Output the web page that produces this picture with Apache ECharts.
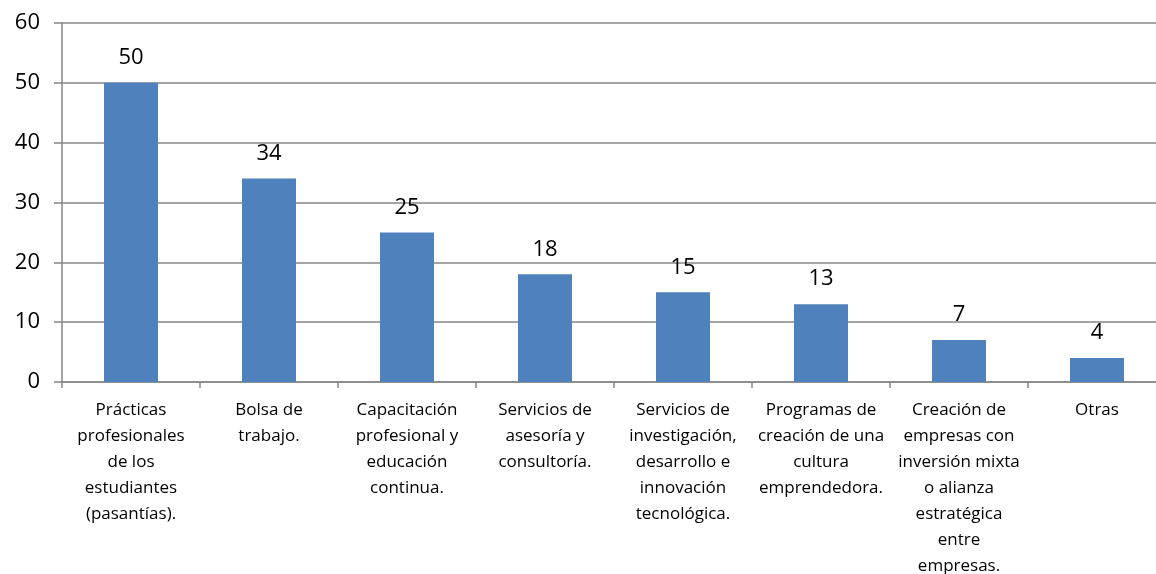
<!DOCTYPE html>
<html>
<head>
    <meta charset="utf-8">
    <title>ECharts</title>
    <script src="https://cdn.jsdelivr.net/npm/echarts@6/dist/echarts.min.js"></script>
</head>
<body>
<style>
    html, body, #main {
        width: 100%;
        height: 100%;
        padding: 0;
        margin: 0;
        background: #fff;
    }
</style>
<div id="main"></div>
<script type="text/javascript">
    var categories = [
        'Prácticas\nprofesionales\nde los\nestudiantes\n(pasantías).',
        'Bolsa de\ntrabajo.',
        'Capacitación\nprofesional y\neducación\ncontinua.',
        'Servicios de\nasesoría y\nconsultoría.',
        'Servicios de\ninvestigación,\ndesarrollo e\ninnovación\ntecnológica.',
        'Programas de\ncreación de una\ncultura\nemprendedora.',
        'Creación de\nempresas con\ninversión mixta\no alianza\nestratégica\nentre\nempresas.',
        'Otras'
    ];
    var values = [50, 34, 25, 18, 15, 13, 7, 4];

    var myChart = echarts.init(document.getElementById('main'));
    var axisColor = '#868686';
    var font = 'Open Sans';

    myChart.setOption({
        animation: false,
        grid: {
            left: 62,
            right: -10,
            top: 23,
            bottom: 192,
            containLabel: false,
            outerBoundsMode: 'none'
        },
        xAxis: {
            type: 'category',
            data: categories,
            axisLine: { lineStyle: { color: axisColor, width: 1.5 } },
            axisTick: { show: true, length: 6, lineStyle: { color: axisColor, width: 1.5 } },
            axisLabel: {
                interval: 0,
                margin: 15,
                color: '#000',
                fontFamily: font,
                fontSize: 17,
                lineHeight: 26,
                align: 'center'
            }
        },
        yAxis: {
            type: 'value',
            min: 0,
            max: 60,
            interval: 10,
            axisLine: { show: true, lineStyle: { color: axisColor, width: 1.5 } },
            axisTick: { show: true, length: 8, lineStyle: { color: axisColor, width: 1.5 } },
            splitLine: { show: true, lineStyle: { color: axisColor, width: 1.5 } },
            axisLabel: {
                margin: 22,
                color: '#000',
                fontFamily: font,
                fontSize: 22
            }
        },
        series: [{
            type: 'bar',
            data: values,
            barWidth: 54,
            itemStyle: { color: '#4F81BD' },
            label: {
                show: true,
                position: 'top',
                distance: 14,
                color: '#000',
                fontFamily: font,
                fontSize: 22
            }
        }]
    });
</script>
</body>
</html>
